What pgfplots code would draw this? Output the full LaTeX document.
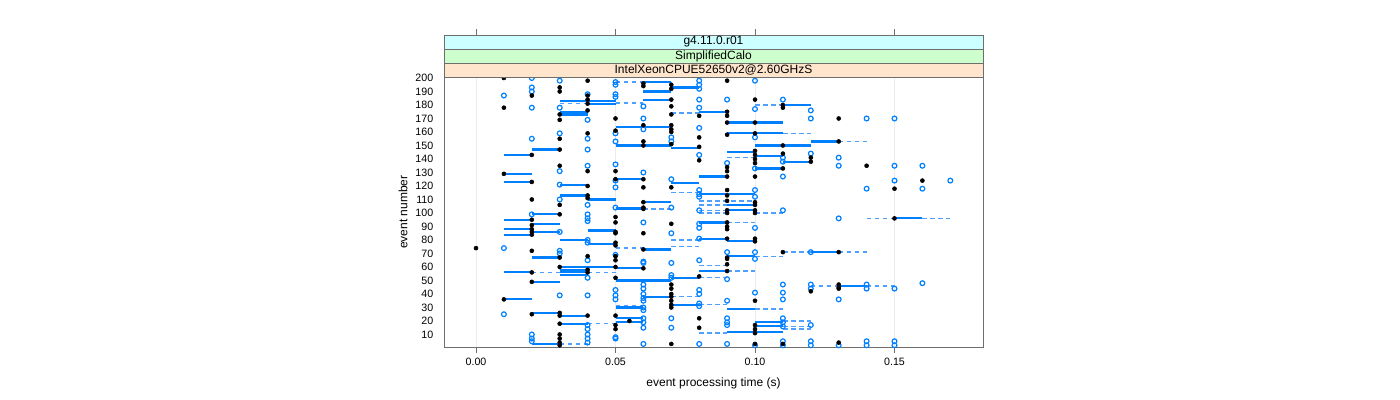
\documentclass[border=0pt]{standalone}
\usepackage{pgfplots}
\pgfplotsset{compat=1.18}
\usepackage{fontspec}
\setmainfont{Liberation Sans}
\definecolor{ptblue}{RGB}{0,128,255}
\definecolor{dashblue}{RGB}{80,160,255}
\definecolor{framegray}{RGB}{110,110,110}
\definecolor{stripcyan}{RGB}{204,255,255}
\definecolor{stripgreen}{RGB}{204,255,204}
\definecolor{strippeach}{RGB}{255,229,204}
\newcommand{\segS}[3]{\addplot[draw=ptblue, line width=1.6pt, forget plot] coordinates {(#1,#3) (#2,#3)};}
\newcommand{\segD}[3]{\addplot[draw=dashblue, line width=1pt, dash pattern=on 3.5pt off 2.5pt, forget plot] coordinates {(#1,#3) (#2,#3)};}
\begin{document}
\begin{tikzpicture}
\useasboundingbox (0,0) rectangle (1050pt,300pt);
\begin{axis}[
  at={(333pt,39.75pt)}, anchor=south west,
  width=404.25pt, height=202.5pt, scale only axis,
  xmin=-0.01147, xmax=0.18172, ymin=0.74, ymax=200.74,
  xtick={0,0.05,0.1,0.15}, xticklabels={0.00,0.05,0.10,0.15},
  ytick={10,20,...,200},
  /pgf/number format/assume math mode=true,
  tick label style={font=\fontsize{8}{9}\selectfont},
  axis line style={framegray},
  xtick pos=bottom, ytick pos=left,
  tick align=outside,
  major tick length=4.5pt,
  y tick style={draw=none},
  x tick style={framegray},
  xmajorgrids, grid style={gray!15},
  xlabel={event processing time (s)}, ylabel={event number},
  label style={font=\fontsize{9}{10}\selectfont},
  xlabel style={at={(axis description cs:0.5,-0.1333)}, anchor=center},
  ylabel style={at={(axis description cs:-0.0761,0.5)}, anchor=center},
  clip=false,
]
% dashed segments (x from, x to, event)
\segD{0.03}{0.05}{181}
\segD{0.05}{0.06}{197}
\segD{0.05}{0.06}{181.5}
\segD{0.10}{0.11}{180}
\segD{0.07}{0.08}{174}
\segD{0.09}{0.10}{141}
\segD{0.07}{0.08}{115}
\segD{0.08}{0.10}{109}
\segD{0.08}{0.09}{106}
\segD{0.11}{0.12}{159}
\segD{0.13}{0.14}{153}
\segD{0.11}{0.12}{150}
\segD{0.02}{0.03}{56}
\segD{0.04}{0.05}{56}
\segD{0.04}{0.05}{18}
\segD{0.03}{0.04}{3}
\segD{0.06}{0.07}{103}
\segD{0.08}{0.09}{102}
\segD{0.08}{0.09}{100}
\segD{0.10}{0.11}{100}
\segD{0.09}{0.10}{93}
\segD{0.07}{0.08}{80}
\segD{0.05}{0.06}{74}
\segD{0.07}{0.08}{75}
\segD{0.10}{0.11}{68}
\segD{0.08}{0.09}{61}
\segD{0.09}{0.10}{57}
\segD{0.06}{0.07}{50}
\segD{0.08}{0.09}{52}
\segD{0.07}{0.08}{38}
\segD{0.05}{0.06}{31}
\segD{0.08}{0.09}{32}
\segD{0.10}{0.11}{29}
\segD{0.08}{0.09}{11}
\segD{0.14}{0.15}{96}
\segD{0.16}{0.17}{96}
\segD{0.11}{0.12}{71}
\segD{0.13}{0.14}{71}
\segD{0.12}{0.13}{46}
\segD{0.14}{0.15}{46}
\segD{0.11}{0.12}{20}
\segD{0.11}{0.12}{14}
\segD{0.11}{0.12}{16}
% solid segments
\segS{0.03}{0.05}{183}
\segS{0.04}{0.05}{181}
\segS{0.03}{0.04}{175}
\segS{0.03}{0.04}{173}
\segS{0.02}{0.03}{147}
\segS{0.01}{0.02}{143}
\segS{0.01}{0.02}{129}
\segS{0.01}{0.02}{123}
\segS{0.03}{0.04}{121}
\segS{0.03}{0.04}{113}
\segS{0.04}{0.05}{110}
\segS{0.06}{0.07}{197}
\segS{0.06}{0.07}{190}
\segS{0.07}{0.08}{193}
\segS{0.06}{0.07}{184}
\segS{0.08}{0.09}{175}
\segS{0.09}{0.11}{167}
\segS{0.05}{0.07}{164}
\segS{0.09}{0.11}{159}
\segS{0.05}{0.07}{150}
\segS{0.07}{0.08}{148}
\segS{0.09}{0.10}{145}
\segS{0.10}{0.11}{142}
\segS{0.10}{0.11}{133}
\segS{0.05}{0.06}{125}
\segS{0.07}{0.08}{122}
\segS{0.08}{0.09}{127}
\segS{0.08}{0.10}{114}
\segS{0.09}{0.10}{106}
\segS{0.09}{0.10}{102}
\segS{0.05}{0.06}{104}
\segS{0.06}{0.07}{108}
\segS{0.10}{0.12}{150}
\segS{0.11}{0.12}{180}
\segS{0.12}{0.13}{153}
\segS{0.11}{0.12}{138}
\segS{0.02}{0.03}{99}
\segS{0.01}{0.02}{95}
\segS{0.01}{0.02}{88}
\segS{0.02}{0.03}{92}
\segS{0.01}{0.02}{84}
\segS{0.02}{0.03}{86}
\segS{0.04}{0.05}{87}
\segS{0.03}{0.04}{80}
\segS{0.04}{0.05}{77}
\segS{0.02}{0.03}{67}
\segS{0.03}{0.04}{60}
\segS{0.04}{0.05}{60}
\segS{0.03}{0.04}{58}
\segS{0.03}{0.04}{56}
\segS{0.03}{0.04}{54}
\segS{0.01}{0.02}{56}
\segS{0.02}{0.03}{49}
\segS{0.01}{0.02}{36}
\segS{0.02}{0.03}{26}
\segS{0.03}{0.04}{24}
\segS{0.03}{0.04}{18}
\segS{0.02}{0.03}{3}
\segS{0.05}{0.06}{103}
\segS{0.08}{0.09}{93}
\segS{0.08}{0.09}{81}
\segS{0.09}{0.10}{79}
\segS{0.06}{0.07}{73}
\segS{0.09}{0.10}{68}
\segS{0.05}{0.06}{59}
\segS{0.08}{0.09}{57}
\segS{0.05}{0.07}{50}
\segS{0.07}{0.08}{52}
\segS{0.06}{0.07}{38}
\segS{0.07}{0.08}{32}
\segS{0.05}{0.06}{30}
\segS{0.09}{0.10}{29}
\segS{0.05}{0.06}{22}
\segS{0.05}{0.06}{19}
\segS{0.10}{0.11}{19}
\segS{0.09}{0.11}{12}
\segS{0.10}{0.11}{16}
\segS{0.15}{0.16}{96}
\segS{0.12}{0.13}{71}
\segS{0.13}{0.14}{46}
% blue open circles
\addplot[only marks, mark=o, ptblue, mark size=1.8pt, line width=0.9pt] table {
x y
0.02 200
0.03 198
0.02 193
0.02 190
0.01 187
0.04 188
0.02 178
0.03 178
0.04 169
0.03 159
0.02 155
0.04 155
0.04 147
0.04 135
0.03 131
0.03 121
0.03 110
0.04 106
0.05 197
0.05 195
0.05 188
0.05 186
0.05 159
0.05 153
0.05 136
0.05 124
0.05 119
0.05 104
0.06 179
0.06 170
0.06 162
0.07 156
0.07 153
0.07 125
0.06 130
0.08 198
0.08 195
0.08 192
0.08 184
0.08 178
0.08 163
0.08 143
0.08 117
0.08 114
0.08 112
0.08 102
0.09 184
0.09 137
0.10 198
0.10 177
0.10 156
0.10 133
0.10 117
0.10 112
0.07 104
0.11 184
0.12 176
0.12 170
0.14 170
0.15 170
0.11 141
0.12 144
0.13 141
0.11 138
0.11 127
0.13 135
0.15 135
0.16 135
0.15 124
0.17 124
0.14 118
0.16 118
0.11 102
0.02 99
0.04 99
0.04 96
0.04 94
0.03 86
0.04 80
0.04 78
0.01 74
0.03 72
0.03 70
0.04 65
0.04 52
0.03 39
0.04 39
0.05 43
0.05 39
0.05 36
0.01 25
0.04 17
0.04 14
0.02 10
0.02 7
0.02 5
0.04 10
0.04 7
0.04 4
0.05 8
0.06 93
0.08 92
0.08 89
0.10 89
0.07 85
0.08 81
0.05 69
0.06 64
0.06 63
0.07 63
0.09 71
0.10 71
0.10 66
0.08 65
0.07 54
0.07 52
0.09 51
0.06 47
0.06 44
0.06 40
0.06 37
0.06 35
0.08 43
0.08 40
0.10 41
0.09 35
0.08 33
0.08 31
0.06 30
0.06 28
0.06 22
0.06 19
0.06 15
0.07 22
0.07 15
0.09 22
0.09 19
0.09 17
0.05 7
0.06 3
0.08 3
0.09 3
0.10 2
0.13 96
0.12 71
0.11 47
0.12 47
0.14 47
0.14 44
0.12 44
0.15 44
0.16 48
0.11 41
0.11 36
0.13 36
0.11 22
0.11 19
0.11 16
0.12 17
0.11 5
0.11 2
0.12 5
0.12 2
0.13 2
0.14 5
0.14 2
0.15 5
0.15 2
};
% black dots
\addplot[only marks, mark=*, black, mark size=1.5pt] table {
x y
0.01 200
0.02 187
0.03 193
0.03 190
0.04 198
0.01 178
0.04 187
0.04 184
0.04 181
0.04 176
0.03 173
0.03 169
0.04 159
0.03 155
0.03 147
0.02 143
0.03 135
0.04 131
0.01 129
0.02 123
0.04 120
0.02 110
0.04 113
0.04 111
0.03 106
0.05 170
0.05 161
0.05 131
0.05 125
0.06 196
0.06 194
0.06 165
0.06 153
0.06 150
0.06 125
0.06 119
0.06 108
0.06 104
0.07 195
0.07 192
0.07 184
0.07 179
0.07 173
0.07 165
0.07 162
0.07 160
0.07 151
0.07 119
0.08 172
0.08 156
0.08 149
0.08 139
0.09 198
0.09 175
0.09 172
0.09 167
0.09 158
0.09 134
0.09 131
0.09 127
0.09 117
0.09 113
0.09 109
0.09 102
0.10 184
0.10 167
0.10 159
0.10 146
0.10 143
0.10 140
0.10 137
0.10 127
0.10 108
0.10 106
0.11 180
0.11 178
0.13 170
0.13 153
0.11 150
0.11 144
0.12 141
0.12 138
0.11 133
0.14 135
0.16 124
0.15 118
0.03 99
0.02 95
0.02 91
0.02 88
0.02 86
0.02 84
0.00 74
0.02 72
0.03 67
0.04 68
0.03 60
0.04 58
0.04 56
0.02 56
0.02 49
0.01 36
0.02 25
0.03 26
0.03 24
0.04 24
0.03 18
0.03 10
0.03 7
0.03 4
0.03 2
0.05 97
0.05 93
0.05 86
0.05 85
0.05 78
0.05 76
0.05 68
0.05 65
0.05 60
0.05 52
0.05 24
0.05 17
0.05 14
0.06 103
0.09 100
0.10 102
0.10 100
0.07 92
0.09 93
0.09 90
0.09 88
0.06 85
0.09 81
0.10 81
0.10 79
0.06 73
0.09 67
0.09 66
0.06 59
0.09 62
0.09 57
0.08 53
0.07 47
0.07 44
0.07 40
0.07 38
0.07 35
0.07 32
0.07 30
0.10 35
0.055 20
0.08 22
0.08 15
0.10 17
0.10 14
0.10 11
0.07 3
0.10 3
0.15 96
0.11 71
0.13 71
0.13 47
0.13 45
0.13 44
0.12 42
0.13 4
0.11 3
};
\end{axis}
% strips
\draw[framegray, fill=strippeach] (333pt,242.25pt) rectangle (737.25pt,252.75pt);
\draw[framegray, fill=stripgreen] (333pt,252.75pt) rectangle (737.25pt,263.25pt);
\draw[framegray, fill=stripcyan] (333pt,263.25pt) rectangle (737.25pt,273.75pt);
\node[font=\fontsize{9}{10}\selectfont, inner sep=0pt] at (535.1pt,247.5pt) {IntelXeonCPUE52650v2@2.60GHzS};
\node[font=\fontsize{9}{10}\selectfont, inner sep=0pt] at (535.1pt,258pt) {SimplifiedCalo};
\node[font=\fontsize{9}{10}\selectfont, inner sep=0pt] at (535.1pt,268.5pt) {g4.11.0.r01};
% top ticks
\draw[framegray] (357.0pt,273.75pt) -- ++(0,4.5pt);
\draw[framegray] (461.6pt,273.75pt) -- ++(0,4.5pt);
\draw[framegray] (566.3pt,273.75pt) -- ++(0,4.5pt);
\draw[framegray] (671.0pt,273.75pt) -- ++(0,4.5pt);
\end{tikzpicture}
\end{document}
